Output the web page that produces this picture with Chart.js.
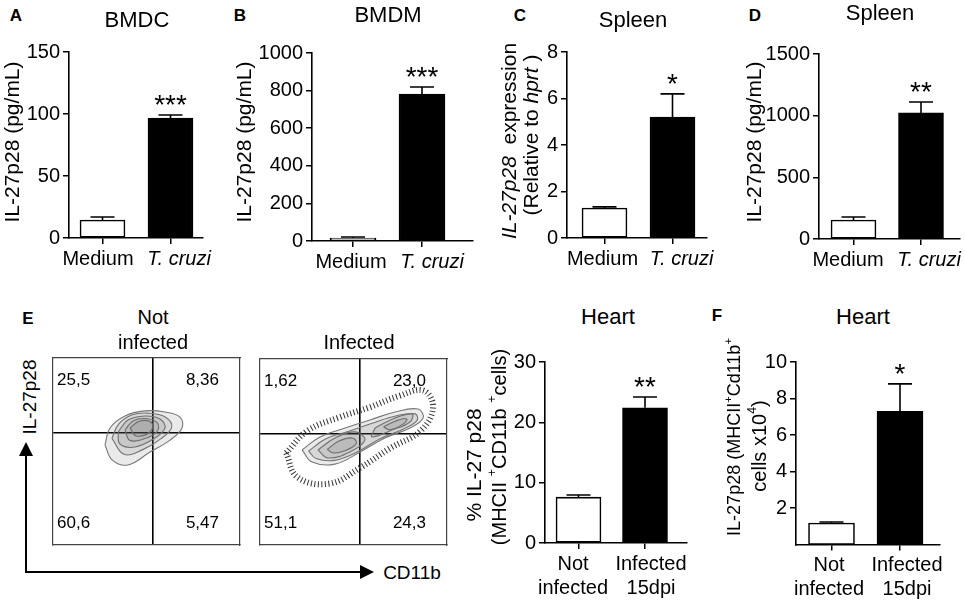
<!DOCTYPE html>
<html>
<head>
<meta charset="utf-8">
<script src="https://cdn.jsdelivr.net/npm/chart.js@4.4.1/dist/chart.umd.min.js"></script>
<style>
  body { margin: 0; background: #fff; }
  #fig { position: relative; width: 965px; height: 603px; overflow: hidden; background: #fff;
         font-family: "Liberation Sans", Arial, Helvetica, sans-serif; color: #000; }
  #fig canvas { position: absolute; }
  .t { position: absolute; white-space: nowrap; line-height: 1; transform: translate(-50%, -50%); }
  .letter { font-weight: bold; font-size: 17px; }
  .title { font-size: 22px; }
  .sub { font-size: 20px; }
  .rot { transform: translate(-50%, -50%) rotate(-90deg); font-size: 19px; }
  .line { position: absolute; background: #000; }
  .tri-up { position: absolute; width: 0; height: 0; border-left: 7px solid transparent;
            border-right: 7px solid transparent; border-bottom: 14px solid #000; }
  .tri-right { position: absolute; width: 0; height: 0; border-top: 7px solid transparent;
               border-bottom: 7px solid transparent; border-left: 14px solid #000; }
</style>
</head>
<body>
<div id="fig">
  <canvas id="chartA"></canvas>
  <canvas id="chartB"></canvas>
  <canvas id="chartC"></canvas>
  <canvas id="chartD"></canvas>
  <canvas id="flowNot"></canvas>
  <canvas id="flowInf"></canvas>
  <canvas id="chartE"></canvas>
  <canvas id="chartF"></canvas>

  <div class="t letter" style="left:16px;top:15px">A</div>
  <div class="t letter" style="left:240px;top:15px">B</div>
  <div class="t letter" style="left:520px;top:15px">C</div>
  <div class="t letter" style="left:755px;top:15px">D</div>
  <div class="t letter" style="left:28px;top:318px">E</div>
  <div class="t letter" style="left:717px;top:315px">F</div>

  <div class="t title" style="left:137px;top:20px">BMDC</div>
  <div class="t title" style="left:388px;top:15px">BMDM</div>
  <div class="t title" style="left:633px;top:20px">Spleen</div>
  <div class="t title" style="left:880px;top:13px">Spleen</div>
  <div class="t title" style="left:608px;top:317px">Heart</div>
  <div class="t title" style="left:863px;top:317px">Heart</div>

  <div class="t sub" style="left:153px;top:317px">Not</div>
  <div class="t sub" style="left:153px;top:342px">infected</div>
  <div class="t sub" style="left:359px;top:342px">Infected</div>

  <!-- axis arrows of the flow plots -->
  <div class="line" style="left:25px;top:455px;width:2px;height:118px"></div>
  <div class="tri-up" style="left:19px;top:442px"></div>
  <div class="line" style="left:25px;top:571px;width:336px;height:2px"></div>
  <div class="tri-right" style="left:360px;top:565px"></div>
  <div class="t rot" style="left:29px;top:397px">IL-27p28</div>
  <div class="t" style="left:412px;top:572px;font-size:19px">CD11b</div>
</div>

<script>
const FONT = '"Liberation Sans", Arial, Helvetica, sans-serif';
Chart.defaults.font.family = FONT;
Chart.defaults.color = '#000';

// ---- data ----
const groupsCulture = ['Medium', 'T. cruzi'];
const groupsHeart = [['Not', 'infected'], ['Infected', '15dpi']];

const bmdcMean = [14.5, 96.8];
const bmdcSem = [2.4, 2.4];
const bmdmMean = [16, 782];
const bmdmSem = [5, 37];
const spleenMrnaMean = [1.29, 5.2];
const spleenMrnaSem = [0.05, 1.0];
const spleenProtMean = [154, 1022];
const spleenProtSem = [24, 89];
const heartPctMean = [7.6, 22.4];
const heartPctSem = [0.35, 1.8];
const heartCellsMean = [1.18, 7.3];
const heartCellsSem = [0.05, 1.5];

const sigBmdc = ['', '***'];
const sigBmdm = ['', '***'];
const sigSpleenMrna = ['', '*'];
const sigSpleenProt = ['', '**'];
const sigHeartPct = ['', '**'];
const sigHeartCells = ['', '*'];

const bmdcTicks = [0, 50, 100, 150];
const bmdmTicks = [0, 200, 400, 600, 800, 1000];
const mrnaTicks = [0, 2, 4, 6, 8];
const spleenTicks = [0, 500, 1000, 1500];
const heartPctTicks = [0, 10, 20, 30];
const heartCellTicks = [2, 4, 6, 8, 10];

// flow cytometry quadrant frequencies (UL, UR, LL, LR) and gate position (% of axis)
const quadNot = ['25,5', '8,36', '60,6', '5,47'];
const quadInf = ['1,62', '23,0', '51,1', '24,3'];
const gateX = 53.5;
const gateY = 60;

// rough contour outlines (axis %)
const contoursNot = [
  [[27.8, 53.5], [30.5, 62.6], [38.5, 69.0], [49.2, 71.7], [59.9, 71.1], [67.9, 68.4], [69.0, 62.6], [62.6, 56.1], [51.9, 49.7], [40.1, 42.8], [31.6, 45.5]],
  [[31.5, 57.0], [35.0, 64.5], [42.0, 69.5], [51.0, 70.5], [60.0, 68.5], [63.5, 63.0], [58.0, 57.0], [48.0, 51.0], [38.0, 48.5]],
  [[34.8, 60.4], [40.1, 66.8], [49.2, 69.0], [57.2, 67.4], [59.9, 62.6], [54.5, 57.2], [43.9, 52.4], [35.8, 54.0]],
  [[38.5, 61.5], [43.0, 66.5], [50.5, 67.5], [56.0, 65.0], [55.5, 60.5], [48.0, 56.5], [41.0, 56.0]],
  [[41.2, 62.6], [46.5, 66.3], [52.9, 65.2], [51.9, 60.4], [44.4, 58.3]]
];
const haloInf = [[14.0, 49.5], [25.5, 61.5], [42.0, 68.5], [58.5, 74.0], [74.0, 80.0], [87.5, 83.0], [92.5, 74.0], [86.0, 61.5], [69.5, 52.0], [53.5, 41.5], [37.0, 33.0], [20.0, 36.5]];
const contoursInf = [
  [[22.5, 51.1], [32.1, 58.1], [45.5, 62.9], [58.8, 67.2], [72.2, 71.5], [84.5, 73.1], [87.2, 68.3], [80.2, 62.9], [66.8, 57.5], [53.5, 50.0], [40.1, 43.5], [27.8, 44.6]],
  [[26.0, 50.5], [35.0, 57.0], [47.0, 61.0], [60.0, 65.5], [73.0, 69.5], [83.0, 70.5], [84.0, 67.0], [77.0, 62.5], [64.0, 57.0], [52.0, 50.0], [40.0, 45.5], [30.0, 46.5]],
  [[31.0, 51.1], [40.1, 57.5], [50.8, 60.8], [56.1, 56.5], [48.1, 50.0], [36.4, 46.8]],
  [[36.0, 51.5], [42.5, 56.0], [49.5, 57.5], [51.5, 54.5], [45.0, 50.5], [39.0, 49.5]],
  [[61.5, 62.9], [72.2, 68.3], [81.3, 70.4], [80.2, 66.1], [70.6, 61.8], [59.9, 58.1]],
  [[66.0, 63.5], [73.5, 67.0], [78.5, 67.8], [76.5, 65.0], [69.5, 62.0]]
];

// ---- plugins ----
const errorBarPlugin = {
  id: 'errorBars',
  afterDatasetsDraw(chart, args, opts) {
    const ctx = chart.ctx;
    const ys = chart.scales.y;
    const ds = chart.data.datasets[0];
    chart.getDatasetMeta(0).data.forEach((bar, i) => {
      const top = ys.getPixelForValue(ds.data[i].y + opts.sem[i]);
      ctx.save();
      ctx.strokeStyle = '#000';
      ctx.lineWidth = 1.6;
      ctx.beginPath();
      ctx.moveTo(bar.x, bar.y);
      ctx.lineTo(bar.x, top);
      ctx.moveTo(bar.x - 12, top);
      ctx.lineTo(bar.x + 12, top);
      ctx.stroke();
      if (opts.sig[i]) {
        ctx.fillStyle = '#000';
        ctx.font = '28px ' + FONT;
        ctx.textAlign = 'center';
        ctx.textBaseline = 'alphabetic';
        ctx.fillText(opts.sig[i], bar.x, top - 1);
      }
      ctx.restore();
    });
  }
};

// rotated y titles with italic / superscript parts
const yTitlePlugin = {
  id: 'yTitle',
  afterDraw(chart, args, opts) {
    const ctx = chart.ctx;
    opts.lines.forEach(line => {
      const size = line.size;
      ctx.save();
      ctx.translate(line.x - opts.ox, line.y - opts.oy);
      ctx.rotate(-Math.PI / 2);
      const parts = line.segs.map(s => {
        const fs = s.sup ? size * 0.62 : size;
        const font = (s.i ? 'italic ' : '') + fs + 'px ' + FONT;
        ctx.font = font;
        return { s: s, font: font, w: ctx.measureText(s.t).width };
      });
      const total = parts.reduce((a, p) => a + p.w, 0);
      let cx = -total / 2;
      ctx.fillStyle = '#000';
      ctx.textBaseline = 'middle';
      ctx.textAlign = 'left';
      parts.forEach(p => {
        ctx.font = p.font;
        ctx.fillText(p.s.t, cx, p.s.sup ? -size * 0.36 : 0);
        cx += p.w;
      });
      ctx.restore();
    });
  }
};

const quadPlugin = {
  id: 'quadLabels',
  afterDraw(chart, args, opts) {
    const { left, right, top, bottom } = chart.chartArea;
    const ctx = chart.ctx;
    ctx.save();
    ctx.fillStyle = '#000';
    ctx.font = '17px ' + FONT;
    ctx.textBaseline = 'middle';
    ctx.textAlign = 'left';
    ctx.fillText(opts.labels[0], left + 4, top + 22);
    ctx.fillText(opts.labels[2], left + 4, bottom - 22);
    ctx.textAlign = 'right';
    ctx.fillText(opts.labels[1], right - 21, top + 22);
    ctx.fillText(opts.labels[3], right - 21, bottom - 22);
    ctx.restore();
  }
};

function place(id, box) {
  const cv = document.getElementById(id);
  cv.width = box[2];
  cv.height = box[3];
  cv.style.left = box[0] + 'px';
  cv.style.top = box[1] + 'px';
  return cv;
}

function barPanel(id, geo, groups, italic, mean, sem, yTicks, sig, yTitle) {
  const [bx, by, bw, bh] = geo.box;
  const [l, t, r, b] = geo.area;
  const [c1, c2] = geo.centers;
  const unit = c2 - c1;
  const xMin = 1 - (c1 - l) / unit;
  const xMax = 2 + (r - c2) / unit;
  const cv = place(id, geo.box);
  return new Chart(cv, {
    type: 'bar',
    data: {
      datasets: [{
        data: mean.map((v, i) => ({ x: i + 1, y: v })),
        backgroundColor: ['#ffffff', '#000000'],
        borderColor: '#000',
        borderWidth: 1.6,
        borderSkipped: false,
        barThickness: geo.bar
      }]
    },
    options: {
      responsive: false,
      animation: false,
      events: [],
      layout: { padding: { top: t - by, right: bx + bw - r, left: 0, bottom: 0 } },
      plugins: {
        legend: { display: false },
        tooltip: { enabled: false },
        errorBars: { sem: sem, sig: sig },
        yTitle: { ox: bx, oy: by, lines: yTitle }
      },
      scales: {
        // axis line and tick marks under the bars
        x: {
          type: 'linear', offset: false, bounds: 'data', min: xMin, max: xMax, weight: 0,
          afterBuildTicks: s => { s.ticks = groups.map((g, i) => ({ value: i + 1 })); },
          afterFit: s => { s.height = 6; },
          grid: { offset: false, drawOnChartArea: false, color: '#000', lineWidth: 1.5, tickLength: 6 },
          border: { color: '#000', width: 1.6 },
          ticks: { display: false }
        },
        // group names, set slightly apart like in the figure
        xLab: {
          type: 'linear', axis: 'x', position: 'bottom', offset: false, bounds: 'data', min: xMin, max: xMax, weight: 1,
          afterBuildTicks: s => { s.ticks = groups.map((g, i) => ({ value: i + 1 + geo.labelShift[i] / unit })); },
          afterFit: s => { s.height = by + bh - b - 6; },
          grid: { display: false, drawTicks: false },
          border: { display: false },
          ticks: {
            color: '#000', padding: 3, maxRotation: 0, autoSkip: false,
            callback: (v, i) => groups[i],
            font: c => ({ size: 20, style: italic[c.index] ? 'italic' : 'normal' })
          }
        },
        y: {
          min: 0,
          max: yTicks[yTicks.length - 1],
          afterBuildTicks: s => { s.ticks = yTicks.map(v => ({ value: v })); },
          afterFit: s => { s.width = l - bx; },
          grid: { drawOnChartArea: false, color: '#000', lineWidth: 1.5, tickLength: 6 },
          border: { color: '#000', width: 1.6 },
          ticks: { color: '#000', padding: 3, font: { size: 20 }, callback: v => String(v) }
        }
      }
    },
    plugins: [errorBarPlugin, yTitlePlugin]
  });
}

function flowPanel(id, geo, quads, halo, contours) {
  const [bx, by, bw, bh] = geo.box;
  const [l, t, r, b] = geo.area;
  const cv = place(id, geo.box);
  const frame = { color: '#444', width: 1.2 };
  const closed = c => c.concat([c[0]]).map(p => ({ x: p[0], y: p[1] }));
  const sets = contours.map(c => ({
    data: closed(c),
    showLine: true,
    pointRadius: 0,
    tension: 0.4,
    borderColor: '#777',
    borderWidth: 1.1,
    fill: 'shape',
    backgroundColor: 'rgba(90,90,90,0.13)'
  }));
  if (halo) {
    sets.push({
      data: closed(halo),
      showLine: true,
      pointRadius: 0,
      tension: 0.4,
      borderColor: '#333',
      borderWidth: 6,
      borderDash: [1, 2.5],
      fill: false
    });
  }
  return new Chart(cv, {
    type: 'scatter',
    data: { datasets: sets },
    options: {
      responsive: false,
      animation: false,
      events: [],
      layout: { padding: 0 },
      plugins: { legend: { display: false }, tooltip: { enabled: false }, quadLabels: { labels: quads } },
      scales: {
        x: {
          type: 'linear', min: 0, max: 100, position: 'bottom',
          afterBuildTicks: s => { s.ticks = [{ value: gateX }]; },
          afterFit: s => { s.height = by + bh - b; },
          ticks: { display: false },
          grid: { color: '#000', lineWidth: 1.6, drawTicks: false },
          border: frame
        },
        y: {
          type: 'linear', min: 0, max: 100, position: 'left',
          afterBuildTicks: s => { s.ticks = [{ value: gateY }]; },
          afterFit: s => { s.width = l - bx; },
          ticks: { display: false },
          grid: { color: '#000', lineWidth: 1.6, drawTicks: false },
          border: frame
        },
        x2: {
          type: 'linear', axis: 'x', min: 0, max: 100, position: 'top',
          afterFit: s => { s.height = t - by; },
          ticks: { display: false }, grid: { display: false }, border: frame
        },
        y2: {
          type: 'linear', axis: 'y', min: 0, max: 100, position: 'right',
          afterFit: s => { s.width = bx + bw - r; },
          ticks: { display: false }, grid: { display: false }, border: frame
        }
      }
    },
    plugins: [quadPlugin]
  });
}

const pgTitle = x => [{ x: x, y: 142, size: 21, segs: [{ t: 'IL-27p28 (pg/mL)' }] }];

barPanel('chartA', { box: [0, 30, 230, 250], area: [69, 52, 203, 238], centers: [102.5, 170.5], bar: 45, labelShift: [-4.5, 8.5] },
  groupsCulture, [false, true], bmdcMean, bmdcSem, bmdcTicks, sigBmdc, pgTitle(13));

barPanel('chartB', { box: [232, 30, 250, 250], area: [312, 53, 473, 241], centers: [353, 422], bar: 46, labelShift: [-2, 10] },
  groupsCulture, [false, true], bmdmMean, bmdmSem, bmdmTicks, sigBmdm, pgTitle(245));

barPanel('chartC', { box: [490, 30, 235, 250], area: [567, 52, 707, 238], centers: [604.5, 672.5], bar: 45, labelShift: [-2, 9] },
  groupsCulture, [false, true], spleenMrnaMean, spleenMrnaSem, mrnaTicks, sigSpleenMrna, [
    { x: 510, y: 141, size: 21, segs: [{ t: 'IL-27p28', i: true }, { t: '  expression' }] },
    { x: 532, y: 135, size: 21, segs: [{ t: '(Relative to ' }, { t: 'hprt', i: true }, { t: ' )' }] }
  ]);

barPanel('chartD', { box: [735, 30, 230, 250], area: [819, 54, 960, 239], centers: [853.5, 921], bar: 45, labelShift: [-5.5, 8] },
  groupsCulture, [false, true], spleenProtMean, spleenProtSem, spleenTicks, sigSpleenProt, pgTitle(755));

flowPanel('flowNot', { box: [40, 350, 210, 205], area: [53, 358, 240, 545] }, quadNot, null, contoursNot);
flowPanel('flowInf', { box: [250, 350, 210, 205], area: [260, 359, 447, 545] }, quadInf, haloInf, contoursInf);

barPanel('chartE', { box: [455, 330, 245, 273], area: [545, 362, 687, 543], centers: [578.5, 645], bar: 45, labelShift: [-5.5, 6] },
  groupsHeart, [false, false], heartPctMean, heartPctSem, heartPctTicks, sigHeartPct, [
    { x: 475, y: 465, size: 21, segs: [{ t: '% IL-27 p28' }] },
    { x: 500, y: 447, size: 20, segs: [{ t: '(MHCII ' }, { t: '+', sup: true }, { t: 'CD11b ' }, { t: '+', sup: true }, { t: 'cells)' }] }
  ]);

barPanel('chartF', { box: [705, 330, 260, 273], area: [796, 362, 940, 544.5], centers: [831.5, 900], bar: 46, labelShift: [-2.5, 7] },
  groupsHeart, [false, false], heartCellsMean, heartCellsSem, heartCellTicks, sigHeartCells, [
    { x: 735, y: 437, size: 18, segs: [{ t: 'IL-27p28 (MHCII' }, { t: '+', sup: true }, { t: 'Cd11b' }, { t: '+', sup: true }] },
    { x: 760, y: 446, size: 20, segs: [{ t: 'cells x10' }, { t: '4', sup: true }, { t: ')' }] }
  ]);
</script>
</body>
</html>
